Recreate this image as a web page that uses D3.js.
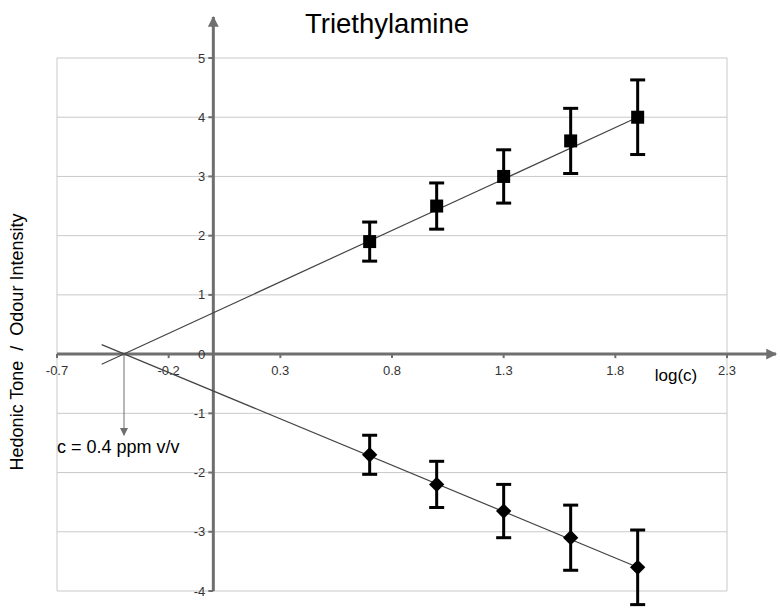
<!DOCTYPE html>
<html>
<head>
<meta charset="utf-8">
<script src="https://cdn.jsdelivr.net/npm/d3@7"></script>
<style>
  body { margin: 0; background: #fff; }
  text { font-family: "Liberation Sans", Arial, sans-serif; }
</style>
</head>
<body>
<div id="chart"></div>
<script>
const FRAME_WIDTH = 780;
const FRAME_HEIGHT = 616;

// data
const logC = [0.7, 1.0, 1.3, 1.6, 1.9];
const intensity = [1.9, 2.5, 3.0, 3.6, 4.0];
const intensityErr = [0.33, 0.39, 0.45, 0.55, 0.63];
const hedonic = [-1.7, -2.2, -2.65, -3.1, -3.6];
const hedonicErr = [0.33, 0.39, 0.45, 0.55, 0.63];
const trendX = [-0.5, 1.9];
const intensityTrend = [-0.17, 4.0];
const hedonicTrend = [0.16, -3.6];
const crossX = -0.4;
const xTicks = [-0.7, -0.2, 0.3, 0.8, 1.3, 1.8, 2.3];
const yTicks = [-4, -3, -2, -1, 0, 1, 2, 3, 4, 5];

const X_SCALE = d3.scaleLinear().domain([-0.7, 2.3]).range([57, 727]);
const Y_SCALE = d3.scaleLinear().domain([-4, 5]).range([591, 58]);

const svg = d3.select("#chart").append("svg")
    .attr("width", FRAME_WIDTH)
    .attr("height", FRAME_HEIGHT);

const defs = svg.append("defs");
defs.append("marker")
    .attr("id", "axisHead")
    .attr("viewBox", "0 0 10 10")
    .attr("refX", 9).attr("refY", 5)
    .attr("markerWidth", 6.5).attr("markerHeight", 3.6)
    .attr("markerUnits", "strokeWidth")
    .attr("orient", "auto")
  .append("path")
    .attr("d", "M0,0 L10,5 L0,10 Z")
    .attr("fill", "#6f6f6f");
defs.append("marker")
    .attr("id", "thinHead")
    .attr("viewBox", "0 0 10 10")
    .attr("refX", 9).attr("refY", 5)
    .attr("markerWidth", 9).attr("markerHeight", 8)
    .attr("markerUnits", "strokeWidth")
    .attr("orient", "auto")
  .append("path")
    .attr("d", "M0,0 L10,5 L0,10 Z")
    .attr("fill", "#6f6f6f");

// grid
svg.append("g").selectAll("line")
    .data(yTicks)
    .enter().append("line")
      .attr("x1", X_SCALE(-0.7)).attr("x2", X_SCALE(2.3))
      .attr("y1", d => Y_SCALE(d)).attr("y2", d => Y_SCALE(d))
      .attr("stroke", "#c9c9c9").attr("stroke-width", 1);
svg.append("g").selectAll("line")
    .data([-0.7, 2.3])
    .enter().append("line")
      .attr("x1", d => X_SCALE(d)).attr("x2", d => X_SCALE(d))
      .attr("y1", Y_SCALE(5)).attr("y2", Y_SCALE(-4))
      .attr("stroke", "#c9c9c9").attr("stroke-width", 1);

// axes
const x0 = X_SCALE(0), y0 = Y_SCALE(0);
svg.append("line")
    .attr("x1", X_SCALE(-0.7)).attr("x2", 776)
    .attr("y1", y0).attr("y2", y0)
    .attr("stroke", "#6f6f6f").attr("stroke-width", 3)
    .attr("marker-end", "url(#axisHead)");
svg.append("line")
    .attr("x1", x0).attr("x2", x0)
    .attr("y1", Y_SCALE(-4)).attr("y2", 17)
    .attr("stroke", "#6f6f6f").attr("stroke-width", 3)
    .attr("marker-end", "url(#axisHead)");

svg.append("g").selectAll("line")
    .data(xTicks)
    .enter().append("line")
      .attr("x1", d => X_SCALE(d)).attr("x2", d => X_SCALE(d))
      .attr("y1", y0).attr("y2", y0 + 4)
      .attr("stroke", "#6f6f6f").attr("stroke-width", 2);
svg.append("g").selectAll("text")
    .data(xTicks)
    .enter().append("text")
      .attr("x", d => X_SCALE(d))
      .attr("y", y0 + 21)
      .attr("text-anchor", "middle")
      .attr("font-size", 13)
      .attr("fill", "#333")
      .text(d => d);

svg.append("g").selectAll("line")
    .data(yTicks)
    .enter().append("line")
      .attr("x1", x0 - 5).attr("x2", x0)
      .attr("y1", d => Y_SCALE(d)).attr("y2", d => Y_SCALE(d))
      .attr("stroke", "#6f6f6f").attr("stroke-width", 2);
svg.append("g").selectAll("text")
    .data(yTicks)
    .enter().append("text")
      .attr("x", x0 - 8)
      .attr("y", d => Y_SCALE(d) + 4.5)
      .attr("text-anchor", "end")
      .attr("font-size", 13)
      .attr("fill", "#333")
      .text(d => d);

// trend lines
const line = d3.line().x(d => X_SCALE(d[0])).y(d => Y_SCALE(d[1]));
svg.append("path")
    .attr("d", line(d3.zip(trendX, intensityTrend)))
    .attr("fill", "none").attr("stroke", "#444").attr("stroke-width", 1.2);
svg.append("path")
    .attr("d", line(d3.zip(trendX, hedonicTrend)))
    .attr("fill", "none").attr("stroke", "#444").attr("stroke-width", 1.2);

// error bars
function errorBars(vals, errs) {
  const g = svg.append("g").attr("stroke", "#000").attr("stroke-width", 3);
  logC.forEach((c, i) => {
    const cx = X_SCALE(c);
    const top = Y_SCALE(vals[i] + errs[i]);
    const bot = Y_SCALE(vals[i] - errs[i]);
    g.append("line").attr("x1", cx).attr("x2", cx).attr("y1", top).attr("y2", bot);
    g.append("line").attr("x1", cx - 7.5).attr("x2", cx + 7.5).attr("y1", top).attr("y2", top);
    g.append("line").attr("x1", cx - 7.5).attr("x2", cx + 7.5).attr("y1", bot).attr("y2", bot);
  });
}
errorBars(intensity, intensityErr);
errorBars(hedonic, hedonicErr);

svg.append("g").selectAll("rect")
    .data(logC)
    .enter().append("rect")
      .attr("x", d => X_SCALE(d) - 6.5)
      .attr("y", (d, i) => Y_SCALE(intensity[i]) - 6.5)
      .attr("width", 13).attr("height", 13)
      .attr("fill", "#000");
svg.append("g").selectAll("path")
    .data(logC)
    .enter().append("path")
      .attr("d", d3.symbol().type(d3.symbolDiamond2).size(150))
      .attr("transform", (d, i) => `translate(${X_SCALE(d)},${Y_SCALE(hedonic[i])})`)
      .attr("fill", "#000");

// threshold annotation
svg.append("line")
    .attr("x1", X_SCALE(crossX)).attr("x2", X_SCALE(crossX))
    .attr("y1", y0).attr("y2", Y_SCALE(-1.37))
    .attr("stroke", "#6f6f6f").attr("stroke-width", 1)
    .attr("marker-end", "url(#thinHead)");
svg.append("text")
    .attr("x", 57).attr("y", 453)
    .attr("font-size", 18)
    .attr("fill", "#000")
    .text("c = 0.4 ppm v/v");

// labels
svg.append("text")
    .attr("x", 387).attr("y", 33)
    .attr("text-anchor", "middle")
    .attr("font-size", 27.5)
    .attr("fill", "#000")
    .text("Triethylamine");
svg.append("text")
    .attr("x", 676).attr("y", 381)
    .attr("text-anchor", "middle")
    .attr("font-size", 17)
    .attr("fill", "#000")
    .text("log(c)");
svg.append("text")
    .attr("transform", "translate(23,342) rotate(-90)")
    .attr("text-anchor", "middle")
    .attr("font-size", 18)
    .attr("fill", "#000")
    .attr("xml:space", "preserve")
    .style("white-space", "pre")
    .text("Hedonic Tone  /  Odour Intensity");
</script>
</body>
</html>
